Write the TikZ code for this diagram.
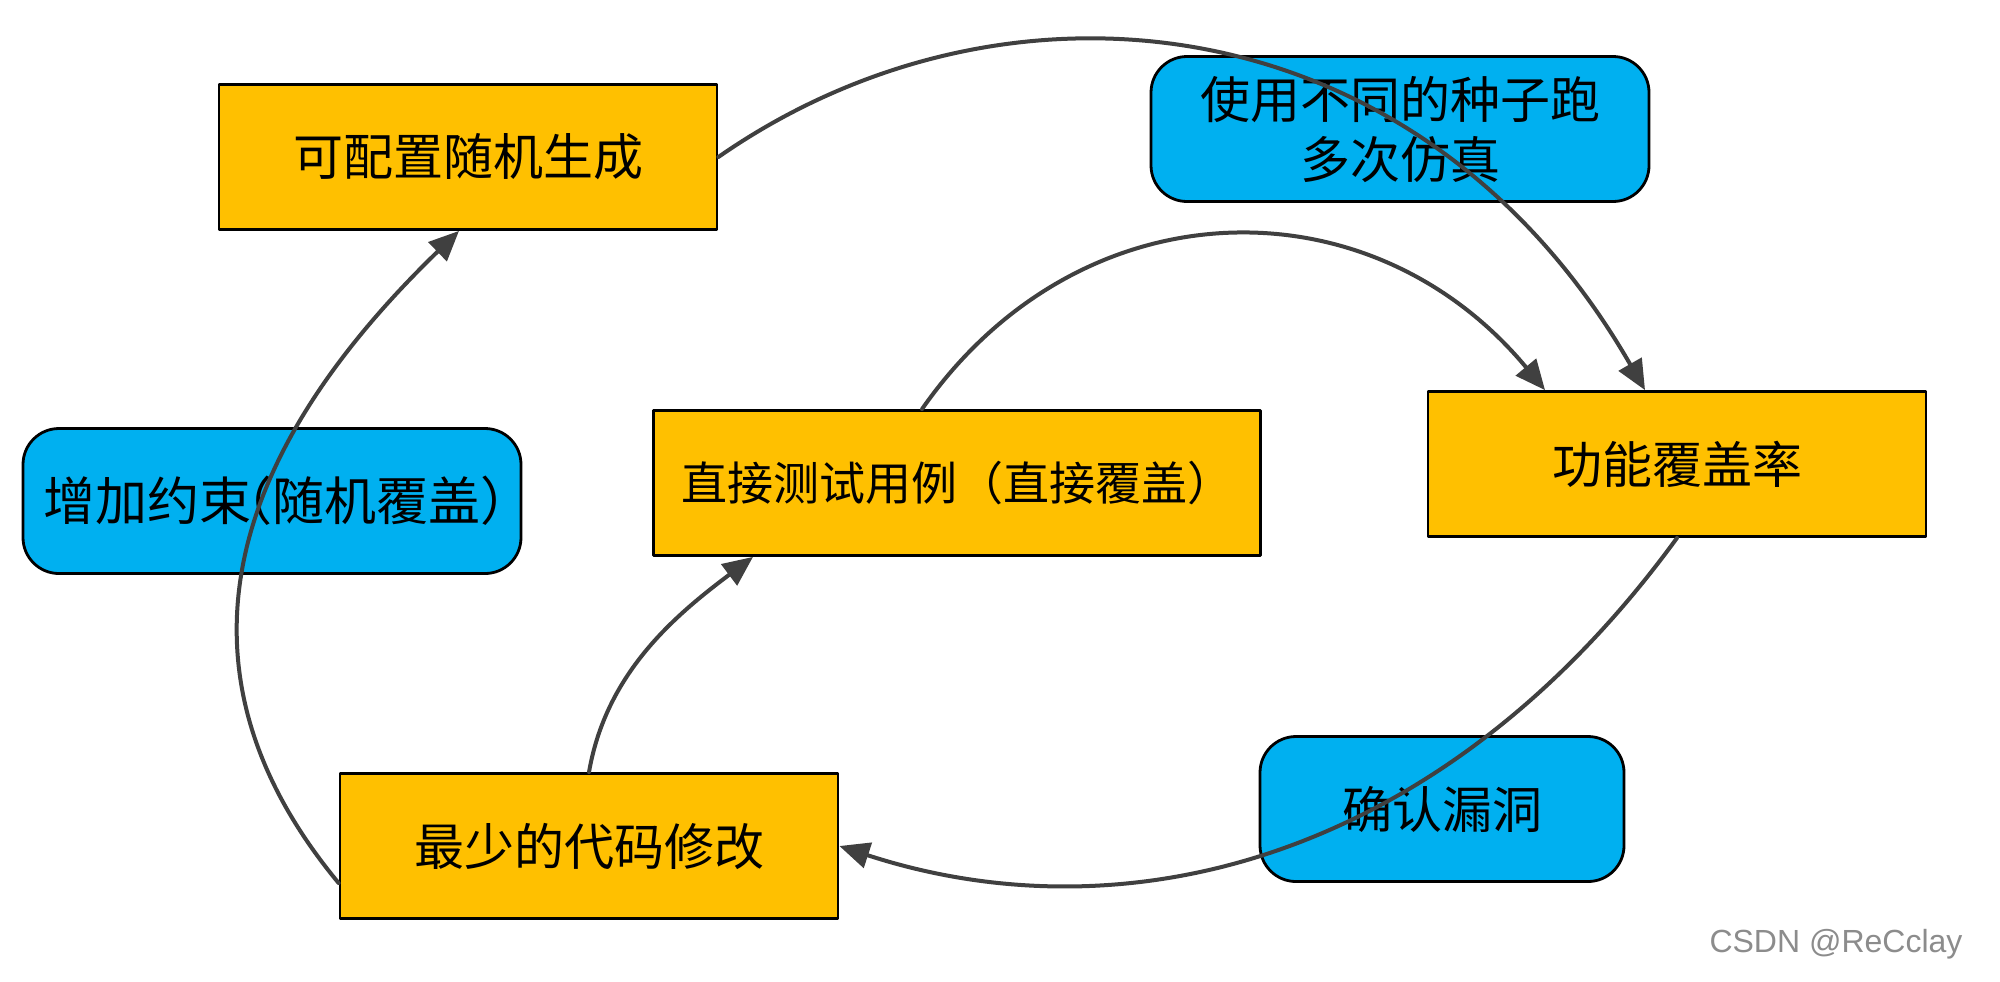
\documentclass[tikz,border=0pt]{standalone}
\usepackage{fontspec}
\usetikzlibrary{arrows.meta}
\newfontfamily\cjk{Noto Sans CJK SC}
\newfontfamily\wmfont{Liberation Sans}
\definecolor{Ofill}{RGB}{255,192,0}
\definecolor{Bfill}{RGB}{0,176,240}
\definecolor{Lgray}{RGB}{64,64,64}

\begin{document}
\begin{tikzpicture}[x=0.5pt,y=-0.5pt,line cap=round,line join=round,
  obox/.style={draw=black,line width=1.4pt,fill=Ofill,minimum width=249pt,minimum height=72.5pt,inner sep=0pt,align=center,font=\cjk\fontsize{25}{30}\selectfont},
  bbox/.style={obox,fill=Bfill,rounded corners=18pt},
  flow/.style={draw=Lgray,line width=2pt,-{Triangle[length=15pt,width=13pt]}}]
\path[use as bounding box,fill=white] (0,0) rectangle (2000,981);
\node[obox] (gen) at (468,157) {可配置随机生成};
\node[bbox] (seed) at (1400,129) {使用不同的种子跑\\多次仿真};
\node[obox] (cov) at (1677,464) {功能覆盖率};
\node[obox,minimum width=303.5pt,font=\cjk\fontsize{23}{28}\selectfont] (direct) at (957,483) {直接测试用例（直接覆盖）};
\node[bbox,text width=249pt,font=\cjk\fontsize{26}{31}\selectfont] (cons) at (272,501) {增加约束\kern-.6em（随机覆盖）\kern-.6em};
\node[bbox,minimum width=182pt] (hole) at (1442,809) {确认漏洞};
\node[obox] (fix) at (589,846) {最少的代码修改};
\draw[flow] (gen.east) .. controls +(287,-200) and +(-225,-391) .. ([xshift=-16pt]cov.north);
\draw[flow] ([xshift=-17.5pt]direct.north) .. controls +(157,-225) and +(-176,-212) .. ([xshift=-66pt]cov.north);
\draw[flow] (cov.south) .. controls +(-236,324) and +(285,93) .. (fix.east);
\draw[flow] (fix.north) .. controls +(17,-98) and +(-80,60) .. ([xshift=-102pt]direct.south);
\draw[flow] ([yshift=-18.5pt]fix.west) .. controls +(-115,-139) and +(-310,300) .. ([xshift=-4.5pt]gen.south);
\node[font=\wmfont\fontsize{16}{18}\selectfont,text=black!45] (mark) at (1836,944) {CSDN @ReCclay};
\end{tikzpicture}
\end{document}
